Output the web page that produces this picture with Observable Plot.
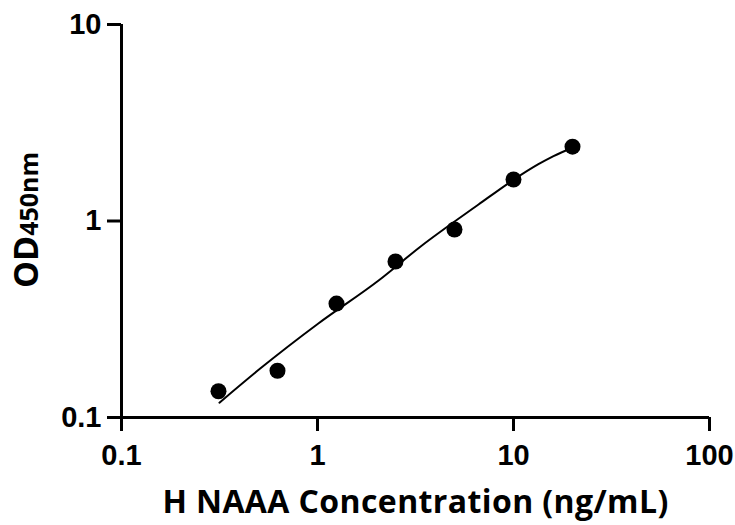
<!DOCTYPE html>
<html>
<head>
<meta charset="utf-8">
<script src="https://cdn.jsdelivr.net/npm/d3@7"></script>
<script src="https://cdn.jsdelivr.net/npm/@observablehq/plot@0.6"></script>
<style>
  html, body { margin: 0; padding: 0; background: #fff; }
</style>
</head>
<body>
<div id="chart"></div>
<script>
// Measured standards
const conc = [0.3125, 0.625, 1.25, 2.5, 5, 10, 20];
const od = [0.136, 0.173, 0.380, 0.622, 0.905, 1.626, 2.39];

// Fitted curve
const curveX = [0.316, 0.512, 1.01, 2.05, 3.36, 6.63, 10, 13.4, 16, 20];
const curveY = [0.119, 0.178, 0.301, 0.498, 0.742, 1.213, 1.62, 1.945, 2.14, 2.36];

const xTicks = [0.1, 1, 10, 100];
const yTicks = [0.1, 1, 10];

const points = conc.map((c, i) => ({x: c, y: od[i]}));
const fit = curveX.map((c, i) => ({x: c, y: curveY[i]}));

const tickFont = "'Liberation Sans', Arial, sans-serif";
const titleFont = "'Open Sans', 'Noto Sans', sans-serif";

const chart = Plot.plot({
  width: 735,
  height: 525,
  marginLeft: 121,
  marginRight: 26,
  marginTop: 24,
  marginBottom: 108,
  style: {background: "#fff", color: "#000", overflow: "visible"},
  x: {type: "log", domain: [0.1, 100]},
  y: {type: "log", domain: [0.1, 10]},
  marks: [
    Plot.axisX({ticks: xTicks, tickFormat: d => String(d), tickSize: 14, tickPadding: 13,
      fontSize: 29, fontWeight: "bold", fontFamily: tickFont, strokeWidth: 3, label: null}),
    Plot.axisY({ticks: yTicks, tickFormat: d => String(d), tickSize: 14, tickPadding: 6,
      fontSize: 29, fontWeight: "bold", fontFamily: tickFont, strokeWidth: 3, label: null}),
    Plot.ruleY([0.1], {x1: 0.1, x2: 100, stroke: "#000", strokeWidth: 3}),
    Plot.ruleX([0.1], {y1: 0.1, y2: 10, stroke: "#000", strokeWidth: 3}),
    Plot.line(fit, {x: "x", y: "y", curve: "monotone-x", stroke: "#000", strokeWidth: 2}),
    Plot.dot(points, {x: "x", y: "y", r: 8, fill: "#000", stroke: "none"}),
    Plot.text(["H NAAA Concentration (ng/mL)"], {frameAnchor: "bottom", lineAnchor: "middle", dy: 85,
      text: d => d, fontSize: 32, fontWeight: "bold", fontFamily: titleFont, fill: "#000",
      style: "letter-spacing:0.4px"})
  ]
});

document.getElementById("chart").appendChild(chart);
d3.select(chart).selectAll('g[aria-label="text"] text').style("letter-spacing", "0.4px");

// Y axis title with smaller "450nm"
const svg = d3.select(chart);
const t = svg.append("text")
  .attr("transform", "translate(38,220) rotate(-90)")
  .attr("text-anchor", "middle")
  .attr("font-family", titleFont)
  .attr("font-weight", "bold")
  .attr("fill", "#000");
t.append("tspan").attr("font-size", 34).text("OD");
t.append("tspan").attr("font-size", 25).text("450nm");
</script>
</body>
</html>
